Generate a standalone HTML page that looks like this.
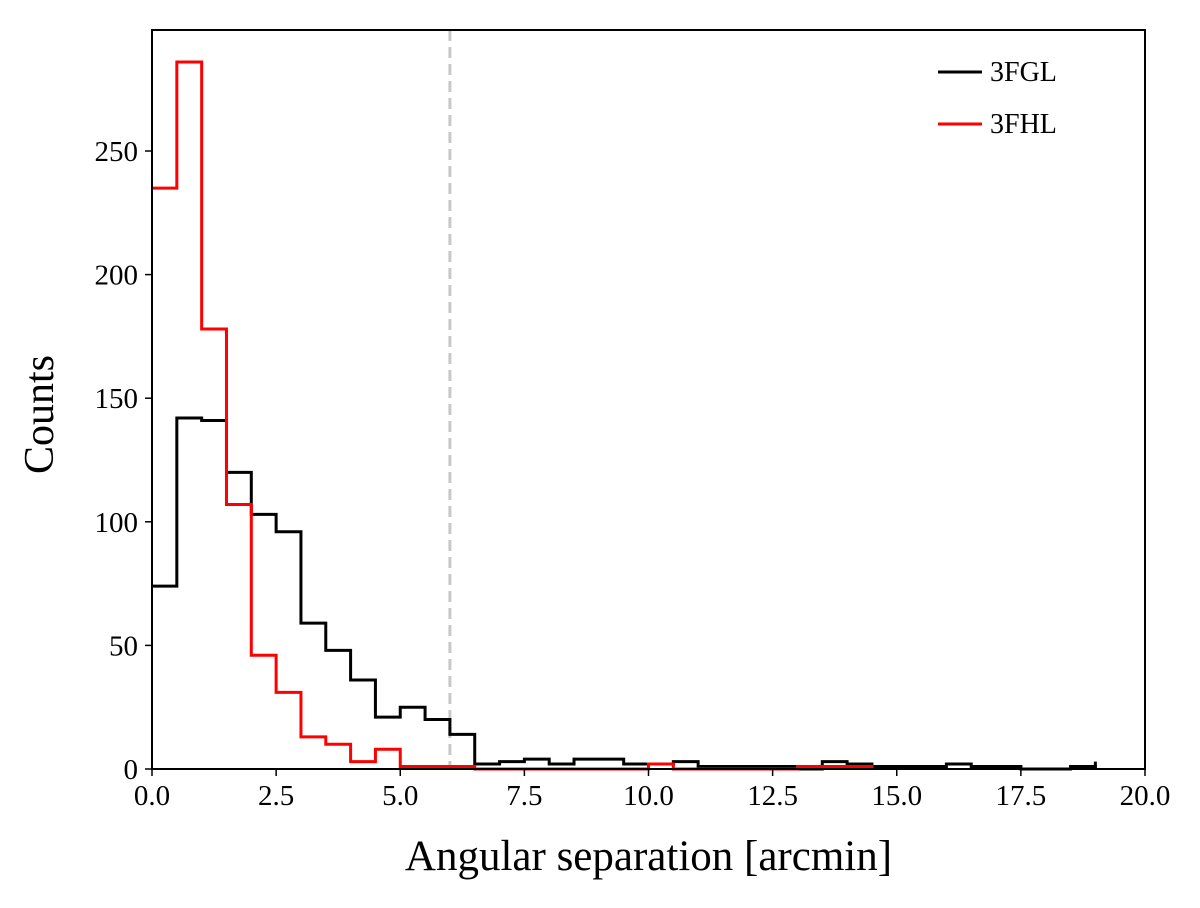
<!DOCTYPE html>
<html><head><meta charset="utf-8"><style>
body{margin:0;background:#fff}
svg text{font-family:"Liberation Serif",serif;fill:#000}
</style></head><body>
<svg width="1200" height="903" xmlns="http://www.w3.org/2000/svg">
<g id="root"></g>
</svg>
<script>
const binEdgesStart = 0;
const binWidth = 0.5;
const countsFGL = [74,142,141,120,103,96,59,48,36,21,25,20,14,2,3,4,2,4,4,2,2,3,1,1,1,1,0,3,2,1,1,1,2,1,1,0,0,1];
const countsFHL = [235,286,178,107,46,31,13,10,3,8,1,1,1,0,0,0,0,0,0,0,2,0,0,0,0,0,1,1,1];
const xTicks = [0,2.5,5,7.5,10,12.5,15,17.5,20];
const yTicks = [0,50,100,150,200,250];
const xTickLabels = ["0.0","2.5","5.0","7.5","10.0","12.5","15.0","17.5","20.0"];
const cutoff = 6;
const endSpike = 3;

const L=152,R=1145,T=30,B=769;
const X=v=>L+(v/20)*(R-L);
const Y=v=>B-v*(B-151)/250;
const root=document.getElementById('root');
const NS='http://www.w3.org/2000/svg';
function mk(t,a){const e=document.createElementNS(NS,t);for(const k in a)e.setAttribute(k,a[k]);root.appendChild(e);return e;}

function stepPath(c){
  let d=`M${X(binEdgesStart)},${Y(c[0])}`;
  c.forEach((v,i)=>{const x0=X(binEdgesStart+i*binWidth),x1=X(binEdgesStart+(i+1)*binWidth);
    d+=` L${x0},${Y(v)} L${x1},${Y(v)}`;});
  d+=` L${X(binEdgesStart+c.length*binWidth)},${Y(0)}`;
  return d;
}
let dl=mk('line',{x1:X(cutoff),x2:X(cutoff),y1:T,y2:B,stroke:'#c8c8c8','stroke-width':3,'stroke-dasharray':'11,6'});


let p1=mk('path',{d:stepPath(countsFGL),fill:'none',stroke:'#000','stroke-width':3});


const xEnd=X(binEdgesStart+countsFGL.length*binWidth);
let sp=mk('line',{x1:xEnd,x2:xEnd,y1:Y(0),y2:Y(endSpike),stroke:'#000','stroke-width':3});


let p2=mk('path',{d:stepPath(countsFHL),fill:'none',stroke:'#ff0000','stroke-width':3});



let fr=mk('rect',{x:L,y:T,width:R-L,height:B-T,fill:'none',stroke:'#000','stroke-width':2});



xTicks.forEach((v,i)=>{
  let t=mk('line',{x1:X(v),x2:X(v),y1:B,y2:B+7,stroke:'#000','stroke-width':1.5});
  
  
  let tx=mk('text',{x:X(v),y:B+36,'font-size':29,'text-anchor':'middle'});
  tx.textContent=xTickLabels[i];
  
  
});
yTicks.forEach(v=>{
  let t=mk('line',{x1:L-7,x2:L,y1:Y(v),y2:Y(v),stroke:'#000','stroke-width':1.5});
  
  
  let tx=mk('text',{x:L-14,y:Y(v)+10,'font-size':29,'text-anchor':'end'});
  tx.textContent=String(v);
  
  
});
let xl=mk('text',{x:(L+R)/2,y:870,'font-size':43,'text-anchor':'middle'});
xl.textContent='Angular separation [arcmin]';


let yl=mk('text',{x:53,y:(T+B)/2+15,'font-size':42,'text-anchor':'middle',transform:`rotate(-90 53 ${(T+B)/2+15})`});
yl.textContent='Counts';



[['3FGL','#000',72],['3FHL','#ff0000',124]].forEach(([n,c,y])=>{
  let ln=mk('line',{x1:938,x2:982,y1:y,y2:y,stroke:c,'stroke-width':3});
  
  
  let tx=mk('text',{x:990,y:y+9,'font-size':28});
  tx.textContent=n;
  
  
});
</script>
</body></html>
